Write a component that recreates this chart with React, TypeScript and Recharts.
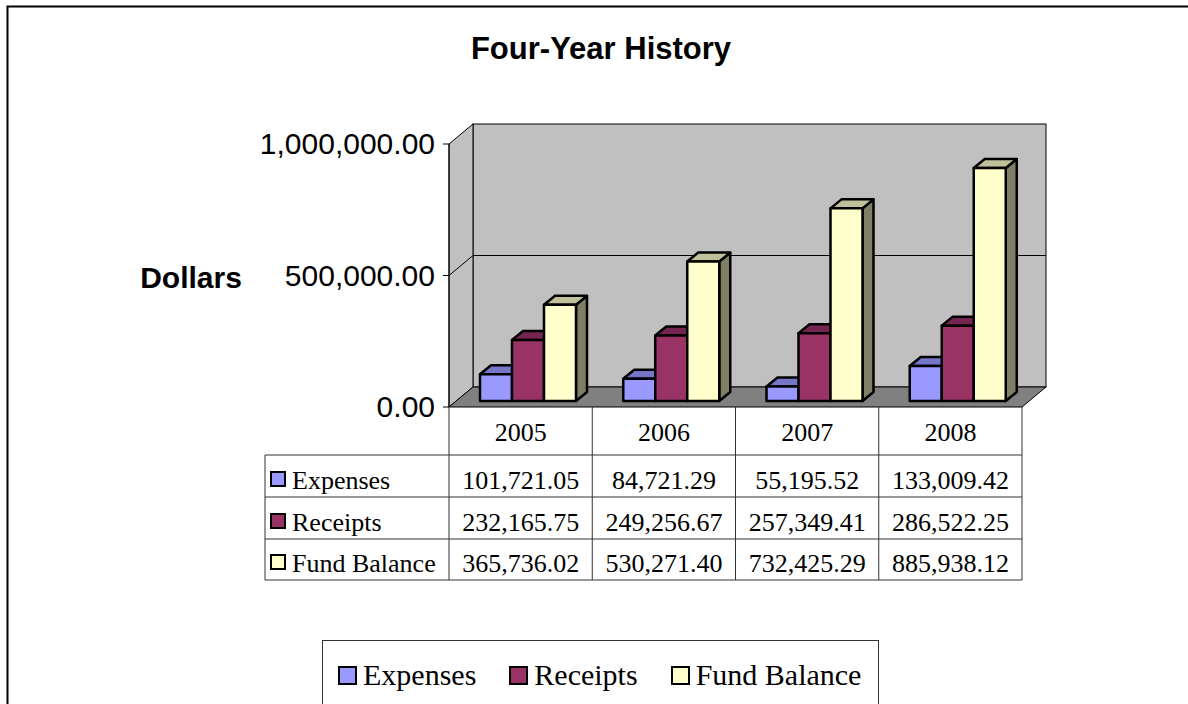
import { Bar, BarChart, XAxis, YAxis } from 'recharts'

const categories = ['2005', '2006', '2007', '2008']
const expenses = [101721.05, 84721.29, 55195.52, 133009.42]
const receipts = [232165.75, 249256.67, 257349.41, 286522.25]
const fundBalance = [365736.02, 530271.4, 732425.29, 885938.12]
const seriesNames = ['Expenses', 'Receipts', 'Fund Balance']
const yTicks = [0, 500000, 1000000]

const data = categories.map((year, i) => ({
  year,
  expenses: expenses[i],
  receipts: receipts[i],
  fund: fundBalance[i],
}))

const series = [
  { key: 'expenses', name: seriesNames[0], front: '#9999FF', top: '#7676C8', side: '#5F5FA6' },
  { key: 'receipts', name: seriesNames[1], front: '#993366', top: '#742650', side: '#5C1F40' },
  { key: 'fund', name: seriesNames[2], front: '#FFFFCC', top: '#C0C09A', side: '#7F7F66' },
]

// layout of the front plane of the 3d plot
const W = 1188
const H = 704
const PLOT_L = 449
const PLOT_R = 1022
const PLOT_T = 144
const PLOT_B = 407
const Y_MAX = 1000000
const WALL_DX = 24
const WALL_DY = 20
const BAR_SHIFT_X = 7
const BAR_SHIFT_Y = -6
const BAR_DX = 11
const BAR_DY = 9
const Y_AXIS_W = 200
const X_AXIS_H = 48
const BAND = (PLOT_R - PLOT_L) / categories.length

const TABLE_LEFT = 265
const ROW_LINES = [455, 497, 539, 580]
const ROW_BASE = [489, 531, 572]

const sans = '"Liberation Sans", Arial, sans-serif'
const serif = '"Liberation Serif", "Times New Roman", serif'

const fmt = (v: number) =>
  v.toLocaleString('en-US', { minimumFractionDigits: 2, maximumFractionDigits: 2 })

const yPos = (v: number) => PLOT_B - (v / Y_MAX) * (PLOT_B - PLOT_T)

function Bar3D(props: any) {
  const { x, y, width, height, colors } = props
  if (width == null || height == null) return null
  const x0 = x + BAR_SHIFT_X
  const y0 = y + BAR_SHIFT_Y
  const w = width
  const h = height
  const top = `${x0},${y0} ${x0 + w},${y0} ${x0 + w + BAR_DX},${y0 - BAR_DY} ${x0 + BAR_DX},${y0 - BAR_DY}`
  const side = `${x0 + w},${y0} ${x0 + w + BAR_DX},${y0 - BAR_DY} ${x0 + w + BAR_DX},${y0 + h - BAR_DY} ${x0 + w},${y0 + h}`
  return (
    <g stroke="#000" strokeWidth={2.5} strokeLinejoin="round">
      <polygon points={side} fill={colors.side} />
      <polygon points={top} fill={colors.top} />
      <rect x={x0} y={y0} width={w} height={h} fill={colors.front} />
    </g>
  )
}

function YTick(props: any) {
  const { x, y, payload } = props
  return (
    <text x={x} y={y} dy={10} textAnchor="end" fontFamily={sans} fontSize={30} fill="#000">
      {fmt(payload.value)}
    </text>
  )
}

function TableColumn(props: any) {
  const { x, payload } = props
  const i = categories.indexOf(payload.value)
  const vals = [expenses[i], receipts[i], fundBalance[i]]
  return (
    <g fontFamily={serif} fontSize={26} fill="#000" textAnchor="middle">
      <text x={x} y={441}>{payload.value}</text>
      {vals.map((v, r) => (
        <text key={r} x={x} y={ROW_BASE[r]}>
          {fmt(v)}
        </text>
      ))}
    </g>
  )
}

function Backdrop() {
  const backL = PLOT_L + WALL_DX
  const backR = PLOT_R + WALL_DX
  const backT = PLOT_T - WALL_DY
  const backB = PLOT_B - WALL_DY
  return (
    <svg width={W} height={H} style={{ position: 'absolute', left: 0, top: 0 }}>
      <rect x={7.5} y={6.5} width={1200} height={720} fill="#fff" stroke="#000" strokeWidth={2} />
      <text x={601} y={59} textAnchor="middle" fontFamily={sans} fontWeight="bold" fontSize={31}>
        Four-Year History
      </text>
      <text x={191} y={288} textAnchor="middle" fontFamily={sans} fontWeight="bold" fontSize={30}>
        Dollars
      </text>
      <rect x={backL} y={backT} width={PLOT_R - PLOT_L} height={PLOT_B - PLOT_T} fill="#C0C0C0" stroke="#000" />
      <polygon
        points={`${PLOT_L},${PLOT_T} ${backL},${backT} ${backL},${backB} ${PLOT_L},${PLOT_B}`}
        fill="#C0C0C0"
        stroke="#000"
      />
      <polygon
        points={`${PLOT_L},${PLOT_B} ${backL},${backB} ${backR},${backB} ${PLOT_R},${PLOT_B}`}
        fill="#808080"
        stroke="#000"
      />
      {yTicks.slice(1, -1).map((t) => (
        <g key={t} stroke="#000">
          <line x1={PLOT_L} y1={yPos(t)} x2={backL} y2={yPos(t) - WALL_DY} />
          <line x1={backL} y1={yPos(t) - WALL_DY} x2={backR} y2={yPos(t) - WALL_DY} />
        </g>
      ))}
      {/* data table grid */}
      <g stroke="#333" strokeWidth={1}>
        {ROW_LINES.map((ly) => (
          <line key={ly} x1={TABLE_LEFT} y1={ly} x2={PLOT_R} y2={ly} />
        ))}
        <line x1={TABLE_LEFT} y1={ROW_LINES[0]} x2={TABLE_LEFT} y2={ROW_LINES[3]} />
        {categories.map((c, i) => (
          <line key={c} x1={PLOT_L + BAND * i} y1={PLOT_B} x2={PLOT_L + BAND * i} y2={ROW_LINES[3]} />
        ))}
        <line x1={PLOT_R} y1={PLOT_B} x2={PLOT_R} y2={ROW_LINES[3]} />
      </g>
      {series.map((s, r) => (
        <g key={s.key}>
          <rect x={271} y={ROW_BASE[r] - 17} width={14} height={14} fill={s.front} stroke="#000" strokeWidth={2} />
          <text x={292} y={ROW_BASE[r]} fontFamily={serif} fontSize={26}>
            {s.name}
          </text>
        </g>
      ))}
    </svg>
  )
}

function LegendBox() {
  return (
    <div
      style={{
        position: 'absolute',
        left: 322,
        top: 640,
        width: 557,
        height: 90,
        border: '1px solid #333',
        background: '#fff',
        boxSizing: 'border-box',
        display: 'flex',
        alignItems: 'flex-start',
        paddingTop: 18,
        paddingLeft: 15,
        gap: 33,
        fontFamily: serif,
        fontSize: 30,
        lineHeight: '32px',
      }}
    >
      {series.map((s) => (
        <div key={s.key} style={{ display: 'flex', alignItems: 'center', gap: 6 }}>
          <span
            style={{
              width: 19,
              height: 19,
              boxSizing: 'border-box',
              border: '2.5px solid #000',
              background: s.front,
              display: 'inline-block',
            }}
          />
          <span>{s.name}</span>
        </div>
      ))}
    </div>
  )
}

export default function App() {
  return (
    <div style={{ position: 'absolute', left: 0, top: 0, width: W, height: H, overflow: 'hidden', background: '#fff' }}>
      <Backdrop />
      <div style={{ position: 'absolute', left: 0, top: 0 }}>
        <BarChart
          width={W}
          height={H}
          data={data}
          margin={{ top: PLOT_T, right: W - PLOT_R, bottom: H - PLOT_B - X_AXIS_H, left: PLOT_L - Y_AXIS_W }}
          barGap={0}
          barSize={32}
        >
          <XAxis dataKey="year" height={X_AXIS_H} axisLine={false} tickLine={false} interval={0} tick={<TableColumn />} />
          <YAxis
            width={Y_AXIS_W}
            domain={[0, Y_MAX]}
            ticks={yTicks}
            tick={<YTick />}
            tickSize={6}
            tickMargin={8}
            tickLine={{ stroke: '#000' }}
            axisLine={{ stroke: '#000' }}
          />
          {series.map((s) => (
            <Bar
              key={s.key}
              dataKey={s.key}
              name={s.name}
              fill={s.front}
              isAnimationActive={false}
              shape={(p: any) => <Bar3D {...p} colors={s} />}
            />
          ))}
        </BarChart>
      </div>
      <LegendBox />
    </div>
  )
}
